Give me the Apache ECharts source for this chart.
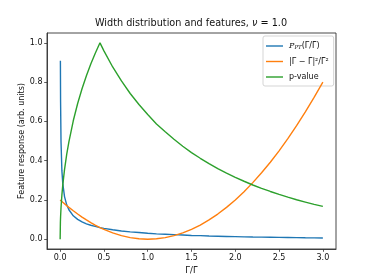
<!DOCTYPE html>
<html>
<head>
<meta charset="utf-8">
<script src="https://cdn.jsdelivr.net/npm/echarts@6/dist/echarts.min.js"></script>
<style>html,body{margin:0;padding:0;background:#fff}#c{width:374px;height:280px}</style>
</head>
<body>
<div id="c"></div>
<script>
// x values (Γ/Γ̄)
const xs = [0,0.003,0.005,0.01,0.02,0.03,0.05,0.075,0.1,0.15,0.2,0.25,0.3,0.35,0.4,0.455,0.5,0.6,0.7,0.8,0.9,1.0,1.1,1.2,1.3,1.4,1.5,1.6,1.7,1.8,1.9,2.0,2.1,2.2,2.3,2.4,2.5,2.6,2.7,2.8,2.9,3.0];
// Porter-Thomas curve (blue)
const ptVals = [null,0.909,0.703,0.496,0.349,0.284,0.217,0.175,0.150,0.119,0.101,0.088,0.078,0.071,0.065,0.059,0.055,0.048,0.042,0.037,0.034,0.030,0.027,0.025,0.023,0.021,0.019,0.018,0.016,0.015,0.014,0.013,0.012,0.011,0.0104,0.0097,0.009,0.0084,0.0079,0.0073,0.0069,0.0064];
// squared deviation (orange)
const devVals = [0.2,0.1988,0.198,0.196,0.192,0.188,0.1805,0.171,0.162,0.1445,0.128,0.1125,0.098,0.0845,0.072,0.0594,0.05,0.032,0.018,0.008,0.002,0,0.002,0.008,0.018,0.032,0.05,0.072,0.098,0.128,0.162,0.2,0.242,0.288,0.338,0.392,0.45,0.512,0.578,0.648,0.722,0.8];
// p-value (green)
const pVals = [0,0.087,0.113,0.159,0.225,0.275,0.354,0.432,0.496,0.603,0.691,0.766,0.832,0.892,0.946,1.0,0.959,0.877,0.806,0.742,0.686,0.635,0.587,0.547,0.509,0.473,0.441,0.412,0.385,0.359,0.336,0.315,0.295,0.276,0.259,0.243,0.228,0.214,0.201,0.189,0.177,0.167];
const xTicks = [0,0.5,1.0,1.5,2.0,2.5,3.0];
const yTicks = [0,0.2,0.4,0.6,0.8,1.0];
const seriesNames = ['pt','dev','pv'];

function pairs(vals){ return xs.map((x,i)=>[x, vals[i]]).filter(p=>p[1]!==null); }

const FONT = 'DejaVu Sans';
const chart = echarts.init(document.getElementById('c'), null, {renderer:'canvas'});
const legendLabels = {
  pt: '{p|P}{s|PT}{n|(Γ/Γ\u0304)}',
  dev: '|Γ − Γ\u0304|²/Γ\u0304²',
  pv: 'p-value'
};
chart.setOption({
  animation:false,
  backgroundColor:'#fff',
  title:{
    text:'Width distribution and features, {i|ν} = 1.0',
    left:191, top:18, textAlign:'center', padding:0,
    textStyle:{fontFamily:FONT, fontSize:9.7, fontWeight:'normal', color:'#111',
      rich:{i:{fontFamily:FONT, fontStyle:'italic', fontSize:9.7, color:'#111'}}}
  },
  grid:{left:47, right:38, top:33, bottom:31, show:true, borderColor:'#333', borderWidth:0.9, backgroundColor:'transparent'},
  legend:{
    orient:'vertical', left:263, top:36,
    padding:[5,5,4,3], itemGap:5.5, itemWidth:17, itemHeight:1.4, icon:'rect',
    backgroundColor:'rgba(255,255,255,0.85)', borderColor:'#d5d5d5', borderWidth:1, borderRadius:2,
    data:seriesNames,
    formatter:n=>legendLabels[n],
    textStyle:{fontFamily:FONT, fontSize:8, color:'#111', lineHeight:10, padding:[0,0,0,1],
      rich:{
        p:{fontFamily:'DejaVu Serif', fontStyle:'italic', fontSize:8, lineHeight:10, color:'#111'},
        s:{fontFamily:'DejaVu Serif', fontStyle:'italic', fontSize:5.5, lineHeight:10, color:'#111', verticalAlign:'bottom'},
        n:{fontFamily:FONT, fontSize:8, lineHeight:10, color:'#111'}
      }}
  },
  xAxis:{
    type:'value', min:-0.15, max:3.15,
    name:'Γ/Γ\u0304', nameLocation:'middle', nameGap:17, nameMoveOverlap:false,
    nameTextStyle:{fontFamily:FONT, fontSize:8.5, color:'#111'},
    axisLine:{show:true, onZero:false, lineStyle:{color:'#333', width:0.9}},
    axisTick:{show:true, inside:false, length:2.8, customValues:xTicks, lineStyle:{color:'#333', width:0.8}},
    axisLabel:{show:true, margin:4.5, customValues:xTicks, formatter:v=>v.toFixed(1), fontFamily:FONT, fontSize:8, color:'#111'},
    splitLine:{show:false}
  },
  yAxis:{
    type:'value', min:-0.05, max:1.05,
    name:'Feature response (arb. units)', nameLocation:'middle', nameGap:21, nameRotate:90, nameMoveOverlap:false,
    nameTextStyle:{fontFamily:FONT, fontSize:8, color:'#111'},
    axisLine:{show:true, onZero:false, lineStyle:{color:'#333', width:0.9}},
    axisTick:{show:true, inside:false, length:2.8, customValues:yTicks, lineStyle:{color:'#333', width:0.8}},
    axisLabel:{show:true, margin:4.5, customValues:yTicks, formatter:v=>v.toFixed(1), fontFamily:FONT, fontSize:8, color:'#111'},
    splitLine:{show:false}
  },
  series:[
    {name:'pt', type:'line', data:pairs(ptVals), symbol:'none', showSymbol:false, lineStyle:{color:'#1f77b4', width:1.4}, itemStyle:{color:'#1f77b4'}, z:3},
    {name:'dev', type:'line', data:pairs(devVals), symbol:'none', showSymbol:false, lineStyle:{color:'#ff7f0e', width:1.4}, itemStyle:{color:'#ff7f0e'}, z:4},
    {name:'pv', type:'line', data:pairs(pVals), symbol:'none', showSymbol:false, lineStyle:{color:'#2ca02c', width:1.4}, itemStyle:{color:'#2ca02c'}, z:5}
  ]
});
</script>
</body>
</html>
